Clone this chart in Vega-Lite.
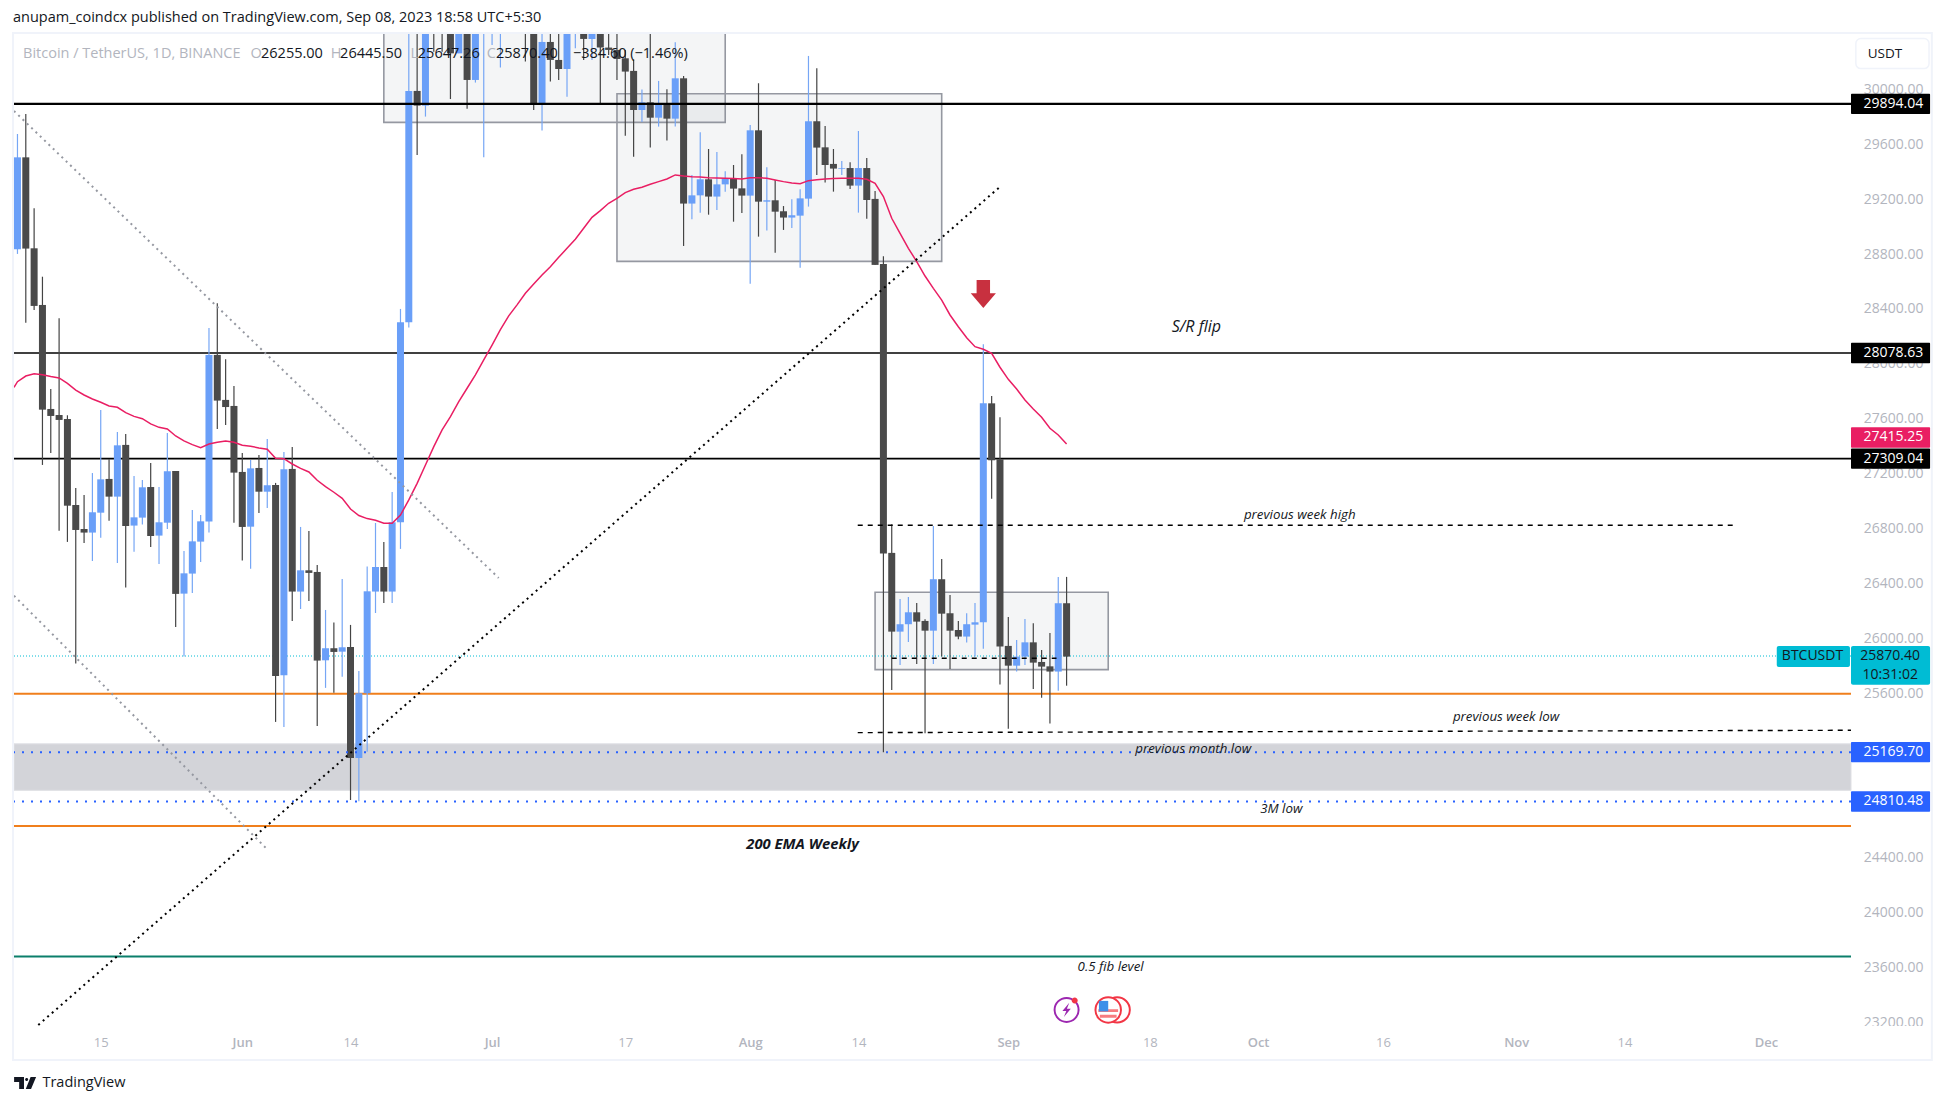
{
  "$schema": "https://vega.github.io/schema/vega-lite/v6.json",
  "autosize": {"type": "none"},
  "width": 1837,
  "height": 994,
  "padding": {"left": 14, "top": 34, "right": 95, "bottom": 77},
  "background": "white",
  "title": {"text": "anupam_coindcx published on TradingView.com, Sep 08, 2023 18:58 UTC+5:30", "anchor": "start", "frame": "group", "font": "Open Sans", "fontSize": 14.5, "fontWeight": "normal", "color": "#131722", "offset": 6, "dx": -1},
  "config": {"view": {"stroke": null}, "text": {"font": "Open Sans"}},
  "datasets": {
    "candles": [
      {"date":"2023-05-05","open":28835,"high":29675,"low":28801,"close":29505},
      {"date":"2023-05-06","open":29505,"high":29821,"low":28300,"close":28840},
      {"date":"2023-05-07","open":28842,"high":29134,"low":28393,"close":28422},
      {"date":"2023-05-08","open":28429,"high":28635,"low":27263,"close":27666},
      {"date":"2023-05-09","open":27671,"high":27817,"low":27350,"close":27620},
      {"date":"2023-05-10","open":27627,"high":28332,"low":26784,"close":27591},
      {"date":"2023-05-11","open":27598,"high":27625,"low":26702,"close":26966},
      {"date":"2023-05-12","open":26971,"high":27095,"low":25815,"close":26789},
      {"date":"2023-05-13","open":26796,"high":27044,"low":26694,"close":26770},
      {"date":"2023-05-14","open":26770,"high":27204,"low":26563,"close":26918},
      {"date":"2023-05-15","open":26915,"high":27664,"low":26733,"close":27158},
      {"date":"2023-05-16","open":27161,"high":27304,"low":26857,"close":27032},
      {"date":"2023-05-17","open":27032,"high":27503,"low":26548,"close":27406},
      {"date":"2023-05-18","open":27409,"high":27489,"low":26369,"close":26818},
      {"date":"2023-05-19","open":26821,"high":27183,"low":26631,"close":26881},
      {"date":"2023-05-20","open":26879,"high":27153,"low":26828,"close":27100},
      {"date":"2023-05-21","open":27102,"high":27277,"low":26665,"close":26745},
      {"date":"2023-05-22","open":26748,"high":27102,"low":26541,"close":26845},
      {"date":"2023-05-23","open":26842,"high":27496,"low":26796,"close":27217},
      {"date":"2023-05-24","open":27219,"high":27219,"low":26082,"close":26323},
      {"date":"2023-05-25","open":26325,"high":26636,"low":25866,"close":26473},
      {"date":"2023-05-26","open":26471,"high":26935,"low":26330,"close":26706},
      {"date":"2023-05-27","open":26704,"high":26898,"low":26556,"close":26852},
      {"date":"2023-05-28","open":26850,"high":28261,"low":26770,"close":28065},
      {"date":"2023-05-29","open":28065,"high":28441,"low":27525,"close":27732},
      {"date":"2023-05-30","open":27737,"high":28033,"low":27554,"close":27685},
      {"date":"2023-05-31","open":27693,"high":27839,"low":26842,"close":27207},
      {"date":"2023-06-01","open":27212,"high":27350,"low":26567,"close":26811},
      {"date":"2023-06-02","open":26813,"high":27299,"low":26507,"close":27238},
      {"date":"2023-06-03","open":27241,"high":27336,"low":26913,"close":27068},
      {"date":"2023-06-04","open":27068,"high":27452,"low":26949,"close":27115},
      {"date":"2023-06-05","open":27117,"high":27132,"low":25390,"close":25725},
      {"date":"2023-06-06","open":25730,"high":27358,"low":25353,"close":27231},
      {"date":"2023-06-07","open":27234,"high":27394,"low":26126,"close":26340},
      {"date":"2023-06-08","open":26340,"high":26811,"low":26213,"close":26495},
      {"date":"2023-06-09","open":26495,"high":26782,"low":26272,"close":26476},
      {"date":"2023-06-10","open":26483,"high":26534,"low":25360,"close":25837},
      {"date":"2023-06-11","open":25839,"high":26206,"low":25638,"close":25927},
      {"date":"2023-06-12","open":25927,"high":26114,"low":25603,"close":25900},
      {"date":"2023-06-13","open":25902,"high":26432,"low":25720,"close":25934},
      {"date":"2023-06-14","open":25936,"high":26097,"low":24821,"close":25127},
      {"date":"2023-06-15","open":25127,"high":25761,"low":24811,"close":25599},
      {"date":"2023-06-16","open":25599,"high":26522,"low":25173,"close":26342},
      {"date":"2023-06-17","open":26340,"high":26840,"low":26184,"close":26519},
      {"date":"2023-06-18","open":26519,"high":26702,"low":26257,"close":26340},
      {"date":"2023-06-19","open":26340,"high":27066,"low":26257,"close":26845},
      {"date":"2023-06-20","open":26845,"high":28400,"low":26651,"close":28303},
      {"date":"2023-06-21","open":28303,"high":30800,"low":28264,"close":29989},
      {"date":"2023-06-22","open":29989,"high":30500,"low":29522,"close":29882},
      {"date":"2023-06-23","open":29882,"high":31430,"low":29802,"close":30688},
      {"date":"2023-06-24","open":30688,"high":31000,"low":30275,"close":30530},
      {"date":"2023-06-25","open":30530,"high":31060,"low":30275,"close":30470},
      {"date":"2023-06-26","open":30550,"high":30650,"low":29930,"close":30263},
      {"date":"2023-06-27","open":30263,"high":31000,"low":30263,"close":30680},
      {"date":"2023-06-28","open":30680,"high":30700,"low":29860,"close":30069},
      {"date":"2023-06-29","open":30069,"high":30800,"low":30050,"close":30450},
      {"date":"2023-06-30","open":30450,"high":31280,"low":29505,"close":30470},
      {"date":"2023-07-01","open":30470,"high":30660,"low":30324,"close":30585},
      {"date":"2023-07-02","open":30585,"high":30800,"low":30159,"close":30617},
      {"date":"2023-07-03","open":30617,"high":31375,"low":30550,"close":31156},
      {"date":"2023-07-04","open":31156,"high":31320,"low":30620,"close":30767},
      {"date":"2023-07-05","open":30767,"high":30880,"low":30203,"close":30514},
      {"date":"2023-07-06","open":30514,"high":31500,"low":29850,"close":29892},
      {"date":"2023-07-07","open":29892,"high":30450,"low":29700,"close":30346},
      {"date":"2023-07-08","open":30346,"high":30450,"low":30057,"close":30215},
      {"date":"2023-07-09","open":30215,"high":30450,"low":30069,"close":30149},
      {"date":"2023-07-10","open":30149,"high":31050,"low":29947,"close":30412},
      {"date":"2023-07-11","open":30412,"high":30800,"low":30300,"close":30620},
      {"date":"2023-07-12","open":30620,"high":30980,"low":30215,"close":30368},
      {"date":"2023-07-13","open":30368,"high":31800,"low":30215,"close":31450},
      {"date":"2023-07-14","open":31450,"high":31640,"low":29899,"close":30305},
      {"date":"2023-07-15","open":30305,"high":30450,"low":30251,"close":30288},
      {"date":"2023-07-16","open":30288,"high":30450,"low":30069,"close":30222},
      {"date":"2023-07-17","open":30227,"high":30288,"low":29663,"close":30130},
      {"date":"2023-07-18","open":30135,"high":30220,"low":29510,"close":29850},
      {"date":"2023-07-19","open":29850,"high":30000,"low":29763,"close":29906},
      {"date":"2023-07-20","open":29906,"high":30450,"low":29576,"close":29794},
      {"date":"2023-07-21","open":29794,"high":30062,"low":29729,"close":29899},
      {"date":"2023-07-22","open":29899,"high":30001,"low":29627,"close":29787},
      {"date":"2023-07-23","open":29787,"high":30343,"low":29729,"close":30081},
      {"date":"2023-07-24","open":30081,"high":30098,"low":28859,"close":29168},
      {"date":"2023-07-25","open":29168,"high":29377,"low":29053,"close":29228},
      {"date":"2023-07-26","open":29228,"high":29687,"low":29102,"close":29345},
      {"date":"2023-07-27","open":29345,"high":29566,"low":29087,"close":29219},
      {"date":"2023-07-28","open":29219,"high":29544,"low":29121,"close":29308},
      {"date":"2023-07-29","open":29308,"high":29403,"low":29255,"close":29352},
      {"date":"2023-07-30","open":29352,"high":29449,"low":29036,"close":29277},
      {"date":"2023-07-31","open":29279,"high":29527,"low":29100,"close":29226},
      {"date":"2023-08-01","open":29226,"high":29741,"low":28584,"close":29702},
      {"date":"2023-08-02","open":29702,"high":30045,"low":28927,"close":29182},
      {"date":"2023-08-03","open":29182,"high":29432,"low":28971,"close":29192},
      {"date":"2023-08-04","open":29192,"high":29340,"low":28810,"close":29109},
      {"date":"2023-08-05","open":29112,"high":29150,"low":28976,"close":29066},
      {"date":"2023-08-06","open":29066,"high":29199,"low":28990,"close":29083},
      {"date":"2023-08-07","open":29080,"high":29272,"low":28701,"close":29206},
      {"date":"2023-08-08","open":29204,"high":30244,"low":29146,"close":29768},
      {"date":"2023-08-09","open":29768,"high":30154,"low":29376,"close":29576},
      {"date":"2023-08-10","open":29578,"high":29734,"low":29321,"close":29449},
      {"date":"2023-08-11","open":29457,"high":29566,"low":29255,"close":29423},
      {"date":"2023-08-12","open":29420,"high":29479,"low":29376,"close":29425},
      {"date":"2023-08-13","open":29427,"high":29469,"low":29274,"close":29299},
      {"date":"2023-08-14","open":29299,"high":29697,"low":29102,"close":29427},
      {"date":"2023-08-15","open":29427,"high":29500,"low":29058,"close":29194},
      {"date":"2023-08-16","open":29202,"high":29260,"low":28721,"close":28721},
      {"date":"2023-08-17","open":28728,"high":28784,"low":25169,"close":26617},
      {"date":"2023-08-18","open":26622,"high":26830,"low":25623,"close":26048},
      {"date":"2023-08-19","open":26048,"high":26286,"low":25805,"close":26102},
      {"date":"2023-08-20","open":26102,"high":26301,"low":25973,"close":26189},
      {"date":"2023-08-21","open":26189,"high":26257,"low":25812,"close":26121},
      {"date":"2023-08-22","open":26126,"high":26138,"low":25307,"close":26055},
      {"date":"2023-08-23","open":26055,"high":26818,"low":25812,"close":26430},
      {"date":"2023-08-24","open":26430,"high":26578,"low":25866,"close":26179},
      {"date":"2023-08-25","open":26182,"high":26315,"low":25776,"close":26055},
      {"date":"2023-08-26","open":26060,"high":26126,"low":25992,"close":26012},
      {"date":"2023-08-27","open":26012,"high":26182,"low":25968,"close":26102},
      {"date":"2023-08-28","open":26099,"high":26257,"low":25866,"close":26116},
      {"date":"2023-08-29","open":26116,"high":28142,"low":25924,"close":27712},
      {"date":"2023-08-30","open":27712,"high":27766,"low":27017,"close":27297},
      {"date":"2023-08-31","open":27304,"high":27610,"low":25662,"close":25939},
      {"date":"2023-09-01","open":25944,"high":26155,"low":25341,"close":25800},
      {"date":"2023-09-02","open":25800,"high":25987,"low":25757,"close":25866},
      {"date":"2023-09-03","open":25866,"high":26140,"low":25805,"close":25970},
      {"date":"2023-09-04","open":25970,"high":26109,"low":25630,"close":25822},
      {"date":"2023-09-05","open":25827,"high":25915,"low":25567,"close":25793},
      {"date":"2023-09-06","open":25795,"high":26038,"low":25378,"close":25757},
      {"date":"2023-09-07","open":25757,"high":26447,"low":25618,"close":26255},
      {"date":"2023-09-08","open":26255,"high":26447,"low":25654,"close":25866}
    ],
    "ema": [
      {"date":"2023-05-04T14:00:00Z","price":27829},
      {"date":"2023-05-05","price":27870},{"date":"2023-05-06","price":27911},{"date":"2023-05-07","price":27928},{"date":"2023-05-08","price":27921},{"date":"2023-05-09","price":27907},{"date":"2023-05-10","price":27897},{"date":"2023-05-11","price":27858},{"date":"2023-05-12","price":27809},{"date":"2023-05-13","price":27773},{"date":"2023-05-14","price":27744},{"date":"2023-05-15","price":27720},{"date":"2023-05-16","price":27693},{"date":"2023-05-17","price":27683},{"date":"2023-05-18","price":27644},{"date":"2023-05-19","price":27617},{"date":"2023-05-20","price":27600},{"date":"2023-05-21","price":27562},{"date":"2023-05-22","price":27537},{"date":"2023-05-23","price":27525},{"date":"2023-05-24","price":27474},{"date":"2023-05-25","price":27438},{"date":"2023-05-26","price":27411},{"date":"2023-05-27","price":27389},{"date":"2023-05-28","price":27416},{"date":"2023-05-29","price":27428},{"date":"2023-05-30","price":27438},{"date":"2023-05-31","price":27428},
      {"date":"2023-06-01","price":27406},{"date":"2023-06-02","price":27399},{"date":"2023-06-03","price":27387},{"date":"2023-06-04","price":27377},{"date":"2023-06-05","price":27311},{"date":"2023-06-06","price":27309},{"date":"2023-06-07","price":27270},{"date":"2023-06-08","price":27238},{"date":"2023-06-09","price":27212},{"date":"2023-06-10","price":27151},{"date":"2023-06-11","price":27105},{"date":"2023-06-12","price":27064},{"date":"2023-06-13","price":27020},{"date":"2023-06-14","price":26942},{"date":"2023-06-15","price":26894},{"date":"2023-06-16","price":26872},{"date":"2023-06-17","price":26860},{"date":"2023-06-18","price":26838},{"date":"2023-06-19","price":26838},{"date":"2023-06-20","price":26898},{"date":"2023-06-21","price":27008},{"date":"2023-06-22","price":27129},{"date":"2023-06-23","price":27263},{"date":"2023-06-24","price":27396},{"date":"2023-06-25","price":27518},{"date":"2023-06-26","price":27615},{"date":"2023-06-27","price":27724},{"date":"2023-06-28","price":27822},{"date":"2023-06-29","price":27919},{"date":"2023-06-30","price":28028},
      {"date":"2023-07-01","price":28137},{"date":"2023-07-02","price":28250},{"date":"2023-07-03","price":28350},{"date":"2023-07-04","price":28430},{"date":"2023-07-05","price":28514},{"date":"2023-07-06","price":28582},{"date":"2023-07-07","price":28648},{"date":"2023-07-08","price":28708},{"date":"2023-07-09","price":28776},{"date":"2023-07-10","price":28842},{"date":"2023-07-11","price":28908},{"date":"2023-07-12","price":28988},{"date":"2023-07-13","price":29068},{"date":"2023-07-14","price":29117},{"date":"2023-07-15","price":29170},{"date":"2023-07-16","price":29206},{"date":"2023-07-17","price":29248},{"date":"2023-07-18","price":29272},{"date":"2023-07-19","price":29287},{"date":"2023-07-20","price":29309},{"date":"2023-07-21","price":29328},{"date":"2023-07-22","price":29347},{"date":"2023-07-23","price":29377},{"date":"2023-07-24","price":29369},{"date":"2023-07-25","price":29364},{"date":"2023-07-26","price":29362},{"date":"2023-07-27","price":29357},{"date":"2023-07-28","price":29355},{"date":"2023-07-29","price":29352},{"date":"2023-07-30","price":29350},{"date":"2023-07-31","price":29347},
      {"date":"2023-08-01","price":29357},{"date":"2023-08-02","price":29357},{"date":"2023-08-03","price":29352},{"date":"2023-08-04","price":29340},{"date":"2023-08-05","price":29328},{"date":"2023-08-06","price":29318},{"date":"2023-08-07","price":29313},{"date":"2023-08-08","price":29335},{"date":"2023-08-09","price":29342},{"date":"2023-08-10","price":29347},{"date":"2023-08-11","price":29350},{"date":"2023-08-12","price":29352},{"date":"2023-08-13","price":29352},{"date":"2023-08-14","price":29352},{"date":"2023-08-15","price":29345},{"date":"2023-08-16","price":29316},{"date":"2023-08-17","price":29219},{"date":"2023-08-18","price":29061},{"date":"2023-08-19","price":28951},{"date":"2023-08-20","price":28842},{"date":"2023-08-21","price":28745},{"date":"2023-08-22","price":28640},{"date":"2023-08-23","price":28550},{"date":"2023-08-24","price":28465},{"date":"2023-08-25","price":28356},{"date":"2023-08-26","price":28270},{"date":"2023-08-27","price":28190},{"date":"2023-08-28","price":28125},{"date":"2023-08-29","price":28106},{"date":"2023-08-30","price":28077},{"date":"2023-08-31","price":27975},
      {"date":"2023-09-01","price":27887},{"date":"2023-09-02","price":27817},{"date":"2023-09-03","price":27737},{"date":"2023-09-04","price":27671},{"date":"2023-09-05","price":27610},{"date":"2023-09-06","price":27530},{"date":"2023-09-07","price":27481},{"date":"2023-09-08","price":27415}
    ],
    "tags": [
      {"from":"2023-12-11T05:00:00Z","to":"2023-12-20T17:00:00Z","textAt":"2023-12-19T21:00:00Z","at":29894.04,"low":29820,"high":29968,"kind":"level","label":"29894.04"},
      {"from":"2023-12-11T05:00:00Z","to":"2023-12-20T17:00:00Z","textAt":"2023-12-19T21:00:00Z","at":28078.63,"low":28005,"high":28153,"kind":"level","label":"28078.63"},
      {"from":"2023-12-11T05:00:00Z","to":"2023-12-20T17:00:00Z","textAt":"2023-12-19T21:00:00Z","at":27463,"low":27389,"high":27537,"kind":"ema","label":"27415.25"},
      {"from":"2023-12-11T05:00:00Z","to":"2023-12-20T17:00:00Z","textAt":"2023-12-19T21:00:00Z","at":27309.04,"low":27235,"high":27383,"kind":"level","label":"27309.04"},
      {"from":"2023-12-11T05:00:00Z","to":"2023-12-20T17:00:00Z","textAt":"2023-12-19T21:00:00Z","at":25169.70,"low":25096,"high":25244,"kind":"low","label":"25169.70"},
      {"from":"2023-12-11T05:00:00Z","to":"2023-12-20T17:00:00Z","textAt":"2023-12-19T21:00:00Z","at":24810.48,"low":24736,"high":24884,"kind":"low","label":"24810.48"}
    ],
    "notes": [
      {"date":"2023-10-06","price":26898,"label":"previous week high"},
      {"date":"2023-10-30T19:00:00Z","price":25424,"label":"previous week low"},
      {"date":"2023-09-23T05:00:00Z","price":25195,"label":"previous month low"},
      {"date":"2023-10-03T19:00:00Z","price":24753,"label":"3M low"},
      {"date":"2023-09-13T07:00:00Z","price":23606,"label":"0.5 fib level"}
    ],
    "readout": [
      {"date":"2023-05-05T16:00:00Z","price":30258,"label":"Bitcoin / TetherUS, 1D, BINANCE","part":"name"},
      {"date":"2023-06-02","price":30258,"label":"O","part":"name"},
      {"date":"2023-06-03T06:00:00Z","price":30258,"label":"26255.00","part":"value"},
      {"date":"2023-06-11T15:00:00Z","price":30258,"label":"H","part":"name"},
      {"date":"2023-06-12T18:00:00Z","price":30258,"label":"26445.50","part":"value"},
      {"date":"2023-06-21T05:00:00Z","price":30258,"label":"L","part":"name"},
      {"date":"2023-06-22T02:00:00Z","price":30258,"label":"25647.26","part":"value"},
      {"date":"2023-06-30T09:00:00Z","price":30258,"label":"C","part":"name"},
      {"date":"2023-07-01T11:00:00Z","price":30258,"label":"25870.40","part":"value"},
      {"date":"2023-07-10T17:00:00Z","price":30258,"label":"−384.60 (−1.46%)","part":"value"}
    ],
    "events": [{"date":"2023-09-08","price":23291,"name":"earnings"}],
    "flags": [{"date":"2023-09-13","price":23291,"name":"US"}]
  },
  "layer": [
    {
      "data": {"values": [{"top": 25230, "bottom": 24891}]},
      "mark": {"type": "rect", "fill": "#d3d4d9", "stroke": "#dfe0e4", "strokeWidth": 1},
      "encoding": {
        "y": {"field": "top", "type": "quantitative"},
        "y2": {"field": "bottom"}
      }
    },
    {
      "data": {"values": [
        {"start": "2023-06-18", "end": "2023-07-29", "top": 30800, "bottom": 29760},
        {"start": "2023-07-16", "end": "2023-08-24", "top": 29969, "bottom": 28747},
        {"start": "2023-08-16", "end": "2023-09-13", "top": 26335, "bottom": 25771}
      ]},
      "mark": {"type": "rect", "fill": "#787b86", "fillOpacity": 0.08, "stroke": "#9598a1", "strokeWidth": 1.6, "clip": true},
      "encoding": {
        "x": {"field": "start", "type": "temporal"},
        "x2": {"field": "end"},
        "y": {"field": "top", "type": "quantitative"},
        "y2": {"field": "bottom"}
      }
    },
    {
      "data": {"values": [{"price": 28078.63}, {"price": 27309.04}]},
      "mark": {"type": "rule", "color": "#000000", "strokeWidth": 1.6},
      "encoding": {"y": {"field": "price", "type": "quantitative"}}
    },
    {
      "data": {"values": [{"price": 25595}, {"price": 24632}]},
      "mark": {"type": "rule", "color": "#f07f1c", "strokeWidth": 2},
      "encoding": {"y": {"field": "price", "type": "quantitative"}}
    },
    {
      "data": {"values": [{"price": 23680}]},
      "mark": {"type": "rule", "color": "#0b7f6b", "strokeWidth": 2},
      "encoding": {"y": {"field": "price", "type": "quantitative"}}
    },
    {
      "data": {"values": [{"price": 25870.4}]},
      "mark": {"type": "rule", "color": "#00bcd4", "strokeWidth": 1, "strokeDash": [1, 2]},
      "encoding": {"y": {"field": "price", "type": "quantitative"}}
    },
    {
      "data": {"name": "candles"},
      "mark": {"type": "rule", "strokeWidth": 1.2, "clip": true},
      "encoding": {
        "x": {
          "field": "date",
          "type": "temporal",
          "title": null,
          "scale": {"type": "utc", "domain": ["2023-05-04T14:00:00Z", "2023-12-11T05:00:00Z"], "nice": false, "padding": 0},
          "axis": {
            "orient": "bottom",
            "values": ["2023-05-15", "2023-06-01", "2023-06-14", "2023-07-01", "2023-07-17", "2023-08-01", "2023-08-14", "2023-09-01", "2023-09-18", "2023-10-01", "2023-10-16", "2023-11-01", "2023-11-14", "2023-12-01"],
            "labelExpr": "utcdate(datum.value) == 1 ? utcFormat(datum.value, '%b') : utcFormat(datum.value, '%-d')",
            "labelFontWeight": {"condition": {"test": "utcdate(datum.value) == 1", "value": 600}, "value": 400},
            "labelFont": "Open Sans",
            "labelFontSize": 13,
            "labelColor": "#b2b5be",
            "labelPadding": 8,
            "labelOverlap": false,
            "ticks": false,
            "domain": false,
            "grid": false
          }
        },
        "y": {
          "field": "high",
          "type": "quantitative",
          "title": null,
          "scale": {"domain": [23159, 30404], "nice": false, "zero": false},
          "axis": {
            "orient": "right",
            "values": [23200, 23600, 24000, 24400, 24800, 25200, 25600, 26000, 26400, 26800, 27200, 27600, 28000, 28400, 28800, 29200, 29600, 30000],
            "format": ".2f",
            "labelFont": "Open Sans",
            "labelFontSize": 14,
            "labelColor": "#b2b5be",
            "labelAlign": "right",
            "labelPadding": 72,
            "labelOverlap": false,
            "ticks": false,
            "domain": false,
            "grid": false
          }
        },
        "y2": {"field": "low"},
        "color": {"condition": {"test": "datum.close >= datum.open", "value": "#76a6f5"}, "value": "#444444"}
      }
    },
    {
      "data": {"name": "candles"},
      "mark": {"type": "bar", "size": 7, "clip": true},
      "encoding": {
        "x": {"field": "date", "type": "temporal"},
        "y": {"field": "open", "type": "quantitative"},
        "y2": {"field": "close"},
        "color": {"condition": {"test": "datum.close >= datum.open", "value": "#6a9ff8"}, "value": "#4a4a4a"}
      }
    },
    {
      "data": {"name": "ema"},
      "mark": {"type": "line", "color": "#e91e63", "strokeWidth": 1.5},
      "encoding": {
        "x": {"field": "date", "type": "temporal"},
        "y": {"field": "price", "type": "quantitative"}
      }
    },
    {
      "data": {"values": [{"price": 29894.04}]},
      "mark": {"type": "rule", "color": "#000000", "strokeWidth": 2.2},
      "encoding": {"y": {"field": "price", "type": "quantitative"}}
    },
    {
      "data": {"values": [{"price": 25169.7}, {"price": 24810.48}]},
      "mark": {"type": "rule", "color": "#2962ff", "strokeWidth": 2, "strokeDash": [2, 7]},
      "encoding": {"y": {"field": "price", "type": "quantitative"}}
    },
    {
      "data": {"values": [
        {"date": "2023-05-07T12:00:00Z", "price": 23181},
        {"date": "2023-08-30T22:00:00Z", "price": 29286}
      ]},
      "mark": {"type": "line", "color": "#000000", "strokeWidth": 2, "strokeDash": [2, 4]},
      "encoding": {
        "x": {"field": "date", "type": "temporal"},
        "y": {"field": "price", "type": "quantitative"}
      }
    },
    {
      "data": {"values": [
        {"date": "2023-05-04T14:00:00Z", "price": 29843, "name": "upper"},
        {"date": "2023-07-01T19:00:00Z", "price": 26439, "name": "upper"},
        {"date": "2023-05-04T14:00:00Z", "price": 26310, "name": "lower"},
        {"date": "2023-06-03T19:00:00Z", "price": 24474, "name": "lower"}
      ]},
      "mark": {"type": "line", "color": "#9598a1", "strokeWidth": 2, "strokeDash": [2, 4]},
      "encoding": {
        "x": {"field": "date", "type": "temporal"},
        "y": {"field": "price", "type": "quantitative"},
        "detail": {"field": "name"}
      }
    },
    {
      "data": {"values": [
        {"date": "2023-08-13T22:00:00Z", "price": 26823, "name": "week high"},
        {"date": "2023-11-27", "price": 26823, "name": "week high"},
        {"date": "2023-08-13T22:00:00Z", "price": 25312, "name": "week low"},
        {"date": "2023-12-11T05:00:00Z", "price": 25329, "name": "week low"},
        {"date": "2023-08-18", "price": 25854, "name": "middle"},
        {"date": "2023-09-06T19:00:00Z", "price": 25854, "name": "middle"}
      ]},
      "mark": {"type": "line", "color": "#000000", "strokeWidth": 1.4, "strokeDash": [5, 5]},
      "encoding": {
        "x": {"field": "date", "type": "temporal"},
        "y": {"field": "price", "type": "quantitative"},
        "detail": {"field": "name"}
      }
    },
    {
      "data": {"values": [{"date": "2023-08-29", "price": 28509}]},
      "mark": {"type": "point", "shape": "M-.24,-.5H.24V-.03H.45L0,.5L-.45,-.03H-.24Z", "size": 3136, "filled": true, "fill": "#c8303f", "opacity": 1, "strokeWidth": 0},
      "encoding": {
        "x": {"field": "date", "type": "temporal"},
        "y": {"field": "price", "type": "quantitative"}
      }
    },
    {
      "data": {"name": "notes"},
      "mark": {"type": "text", "fontSize": 13.3, "fontStyle": "italic", "color": "#131722", "align": "center", "baseline": "middle"},
      "encoding": {
        "x": {"field": "date", "type": "temporal"},
        "y": {"field": "price", "type": "quantitative"},
        "text": {"field": "label"}
      }
    },
    {
      "data": {"values": [{"date": "2023-09-23T14:00:00Z", "price": 28271, "label": "S/R flip"}]},
      "mark": {"type": "text", "fontSize": 16, "fontStyle": "italic", "color": "#131722", "align": "center", "baseline": "middle"},
      "encoding": {
        "x": {"field": "date", "type": "temporal"},
        "y": {"field": "price", "type": "quantitative"},
        "text": {"field": "label"}
      }
    },
    {
      "data": {"values": [{"date": "2023-08-07T07:00:00Z", "price": 24493, "label": "200 EMA Weekly"}]},
      "mark": {"type": "text", "fontSize": 14.8, "fontStyle": "italic", "fontWeight": "bold", "color": "#131722", "align": "center", "baseline": "middle"},
      "encoding": {
        "x": {"field": "date", "type": "temporal"},
        "y": {"field": "price", "type": "quantitative"},
        "text": {"field": "label"}
      }
    },
    {
      "data": {"name": "readout"},
      "mark": {"type": "text", "fontSize": 14.5, "align": "left", "baseline": "middle"},
      "encoding": {
        "x": {"field": "date", "type": "temporal"},
        "y": {"field": "price", "type": "quantitative"},
        "text": {"field": "label"},
        "color": {"condition": {"test": "datum.part == 'name'", "value": "#b2b5be"}, "value": "#131722"}
      }
    },
    {
      "data": {"name": "flags"},
      "mark": {"type": "point", "shape": "M.72,0A.42,.42 0 1 0 -.12,0A.42,.42 0 1 0 .72,0Z", "size": 3600, "filled": false, "fill": "#ffffff", "fillOpacity": 1, "stroke": "#f23645", "strokeWidth": 2, "opacity": 1},
      "encoding": {
        "x": {"field": "date", "type": "temporal"},
        "y": {"field": "price", "type": "quantitative"}
      }
    },
    {
      "data": {"name": "flags"},
      "mark": {"type": "point", "shape": "circle", "size": 650, "filled": false, "fill": "#ffffff", "fillOpacity": 1, "stroke": "#f23645", "strokeWidth": 2, "opacity": 1},
      "encoding": {
        "x": {"field": "date", "type": "temporal"},
        "y": {"field": "price", "type": "quantitative"}
      }
    },
    {
      "data": {"name": "flags"},
      "mark": {"type": "point", "shape": "M-.33,-.02H.33V.07H-.33Z M-.28,.16H.28V.26H-.28Z", "size": 3600, "filled": true, "fill": "#f77c80", "opacity": 1, "strokeWidth": 0},
      "encoding": {
        "x": {"field": "date", "type": "temporal"},
        "y": {"field": "price", "type": "quantitative"}
      }
    },
    {
      "data": {"name": "flags"},
      "mark": {"type": "point", "shape": "M-.31,-.3H0V.05H-.31Z", "size": 3600, "filled": true, "fill": "#3f8fe8", "opacity": 1, "strokeWidth": 0},
      "encoding": {
        "x": {"field": "date", "type": "temporal"},
        "y": {"field": "price", "type": "quantitative"}
      }
    },
    {
      "data": {"name": "events"},
      "mark": {"type": "point", "shape": "circle", "size": 576, "filled": false, "stroke": "#9c27b0", "strokeWidth": 2, "opacity": 1},
      "encoding": {
        "x": {"field": "date", "type": "temporal"},
        "y": {"field": "price", "type": "quantitative"}
      }
    },
    {
      "data": {"name": "events"},
      "mark": {"type": "point", "shape": "M.09,-.24L-.14,.04H-.01L-.09,.24L.14,-.04H.01Z", "size": 3600, "filled": true, "fill": "#9c27b0", "opacity": 1, "strokeWidth": 0},
      "encoding": {
        "x": {"field": "date", "type": "temporal"},
        "y": {"field": "price", "type": "quantitative"}
      }
    },
    {
      "data": {"name": "events"},
      "mark": {"type": "point", "shape": "M.37,-.31A.1,.1 0 1 0 .17,-.31A.1,.1 0 1 0 .37,-.31Z", "size": 3600, "filled": true, "fill": "#f23645", "opacity": 1, "strokeWidth": 0},
      "encoding": {
        "x": {"field": "date", "type": "temporal"},
        "y": {"field": "price", "type": "quantitative"}
      }
    },
    {
      "data": {"values": [{"from": "2023-12-11T05:00:00Z", "to": "2023-12-20T17:00:00Z", "top": 23174, "bottom": 23072}]},
      "mark": {"type": "rect", "fill": "#ffffff"},
      "encoding": {
        "x": {"field": "from", "type": "temporal"},
        "x2": {"field": "to"},
        "y": {"field": "top", "type": "quantitative"},
        "y2": {"field": "bottom"}
      }
    },
    {
      "data": {"name": "tags"},
      "mark": {"type": "rect", "cornerRadius": 1},
      "encoding": {
        "x": {"field": "from", "type": "temporal"},
        "x2": {"field": "to"},
        "y": {"field": "low", "type": "quantitative"},
        "y2": {"field": "high"},
        "color": {"field": "kind", "type": "nominal", "legend": null, "scale": {"domain": ["level", "ema", "low"], "range": ["#000000", "#e91e63", "#2962ff"]}}
      }
    },
    {
      "data": {"name": "tags"},
      "mark": {"type": "text", "fontSize": 14, "fontWeight": 500, "color": "#ffffff", "align": "right", "baseline": "middle"},
      "encoding": {
        "x": {"field": "textAt", "type": "temporal"},
        "y": {"field": "at", "type": "quantitative"},
        "text": {"field": "label"}
      }
    },
    {
      "data": {"values": [
        {"from": "2023-12-02T07:00:00Z", "to": "2023-12-11T02:00:00Z", "top": 25944, "bottom": 25791},
        {"from": "2023-12-11T05:00:00Z", "to": "2023-12-20T17:00:00Z", "top": 25944, "bottom": 25660}
      ]},
      "mark": {"type": "rect", "fill": "#00bcd4", "cornerRadius": 2},
      "encoding": {
        "x": {"field": "from", "type": "temporal"},
        "x2": {"field": "to"},
        "y": {"field": "top", "type": "quantitative"},
        "y2": {"field": "bottom"}
      }
    },
    {
      "data": {"values": [
        {"date": "2023-12-06T14:00:00Z", "price": 25868, "label": "BTCUSDT"},
        {"date": "2023-12-15T22:00:00Z", "price": 25868, "label": "25870.40"},
        {"date": "2023-12-15T22:00:00Z", "price": 25734, "label": "10:31:02"}
      ]},
      "mark": {"type": "text", "fontSize": 14, "color": "#131722", "align": "center", "baseline": "middle"},
      "encoding": {
        "x": {"field": "date", "type": "temporal"},
        "y": {"field": "price", "type": "quantitative"},
        "text": {"field": "label"}
      }
    },
    {
      "data": {"values": [{"from": "2023-05-04T11:00:00Z", "to": "2023-12-20T22:00:00Z", "top": 30412, "bottom": 22926}]},
      "mark": {"type": "rect", "fill": null, "stroke": "#f0f3fa", "strokeWidth": 2},
      "encoding": {
        "x": {"field": "from", "type": "temporal"},
        "x2": {"field": "to"},
        "y": {"field": "top", "type": "quantitative"},
        "y2": {"field": "bottom"}
      }
    },
    {
      "data": {"values": [{"from": "2023-12-11T19:00:00Z", "to": "2023-12-20T14:00:00Z", "top": 30371, "bottom": 30152}]},
      "mark": {"type": "rect", "fill": "#ffffff", "stroke": "#f0f3fa", "strokeWidth": 1.5, "cornerRadius": 5},
      "encoding": {
        "x": {"field": "from", "type": "temporal"},
        "x2": {"field": "to"},
        "y": {"field": "top", "type": "quantitative"},
        "y2": {"field": "bottom"}
      }
    },
    {
      "data": {"values": [{"date": "2023-12-15T07:00:00Z", "price": 30258, "label": "USDT"}]},
      "mark": {"type": "text", "fontSize": 13.5, "color": "#131722", "align": "center", "baseline": "middle"},
      "encoding": {
        "x": {"field": "date", "type": "temporal"},
        "y": {"field": "price", "type": "quantitative"},
        "text": {"field": "label"}
      }
    },
    {
      "data": {"values": [{"date": "2023-05-05T22:00:00Z", "price": 22758}]},
      "mark": {"type": "point", "shape": "M-.5,-.27H-.05V.27H-.27V-.05H-.5Z M.14,-.16A.07,.07 0 1 0 0,-.16A.07,.07 0 1 0 .14,-.16Z M.5,-.27L.27,.27H.03L.25,-.27Z", "size": 1936, "filled": true, "fill": "#131722", "opacity": 1, "strokeWidth": 0},
      "encoding": {
        "x": {"field": "date", "type": "temporal"},
        "y": {"field": "price", "type": "quantitative"}
      }
    },
    {
      "data": {"values": [{"date": "2023-05-08", "price": 22758, "label": "TradingView"}]},
      "mark": {"type": "text", "fontSize": 14.5, "color": "#131722", "align": "left", "baseline": "middle"},
      "encoding": {
        "x": {"field": "date", "type": "temporal"},
        "y": {"field": "price", "type": "quantitative"},
        "text": {"field": "label"}
      }
    }
  ]
}
